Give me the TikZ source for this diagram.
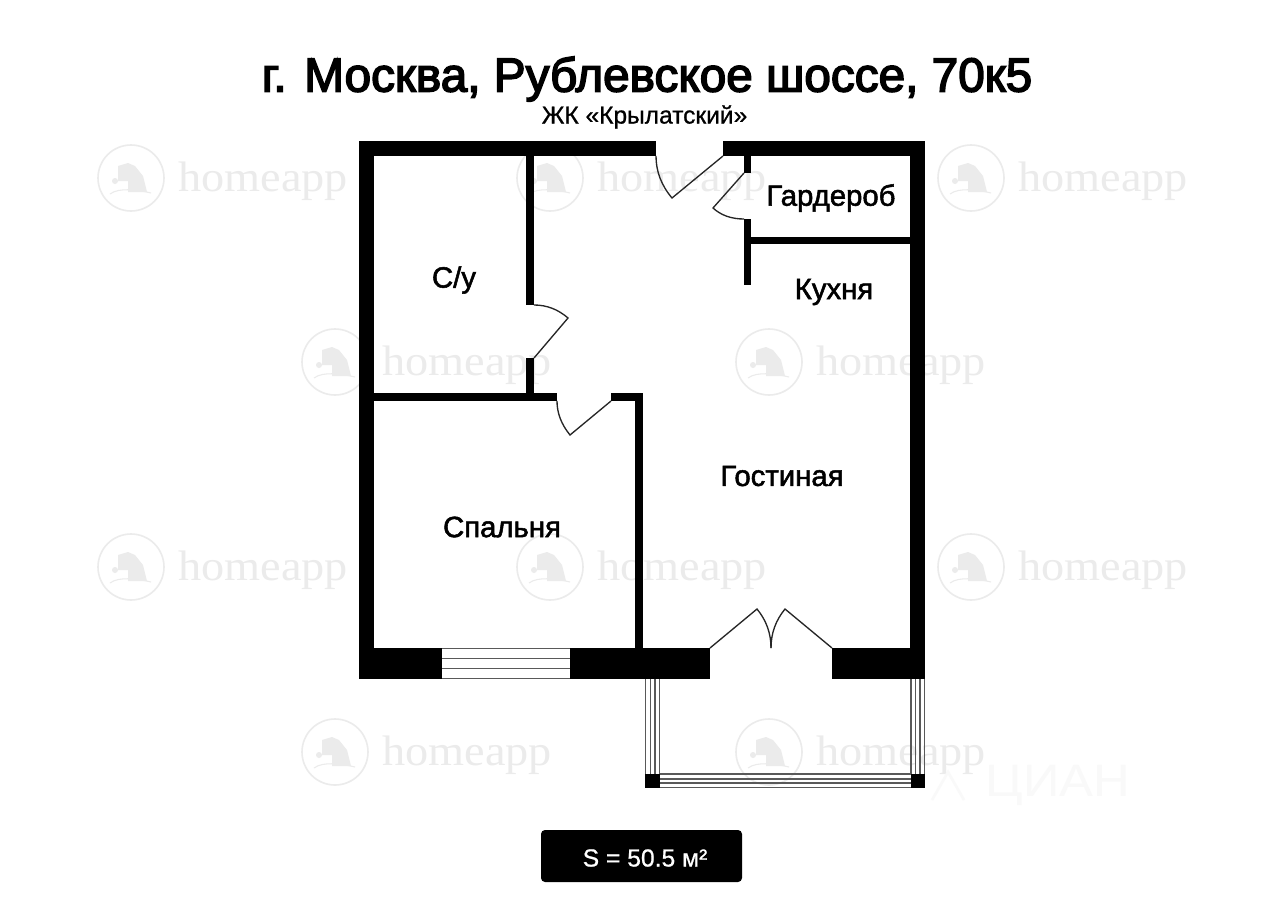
\documentclass[tikz,border=0pt]{standalone}
\usepackage{fontspec}
\setmainfont{Liberation Sans}
\newfontfamily\wmfont[FakeStretch=1.084]{Liberation Serif}
\newfontfamily\medfont[FakeBold=3.2]{Liberation Sans}
\newfontfamily\labfont[FakeBold=1.8]{Liberation Sans}
\newfontfamily\subfont[FakeBold=0.8]{Liberation Sans}
\newfontfamily\cianfont[FakeStretch=1.12]{Liberation Sans}
\tikzset{
  wall/.style={fill=black,draw=none},
  doorline/.style={draw=black!85,line width=1pt,line join=miter},
  glass/.style={draw=black!65,line width=1pt},
  roomlabel/.style={inner sep=0pt,font=\labfont\fontsize{22}{26}\selectfont},
  wmtext/.style={inner sep=0pt,anchor=west,text=black!8,font=\wmfont\fontsize{32}{34}\selectfont},
  wmring/.style={draw=black!8,line width=1.2pt,fill=white},
  wmhouse/.style={fill=black!8,draw=none}
}
\newcommand{\wmark}[3]{%
  \path[wmring] (#1,#2) circle (33);
  \path[wmhouse] (#1-13,#2-12) -- (#1-3,#2-15) -- (#1+4,#2-12) -- (#1+12,#2-2) -- (#1+16,#2+14) -- (#1-3,#2+14) -- (#1-3,#2+3) -- (#1-13,#2+3) -- cycle;
  \path[wmhouse] (#1-16,#2+3) circle (3);
  \draw[black!8,line width=0.8pt] (#1-21,#2+16) .. controls (#1-12,#2+9) and (#1+8,#2+12) .. (#1+20,#2+15);
  \node[wmtext] (wm#3) at (#1+47,#2+3) {homeapp};
}
\begin{document}
\begin{tikzpicture}[x=0.75pt,y=-0.75pt]
\useasboundingbox (0,0) rectangle (1280,914);
\fill[white] (0,0) rectangle (1280,914);
% watermarks
\wmark{131}{178}{a}
\wmark{550}{178}{b}
\wmark{971}{178}{c}
\wmark{335}{362}{d}
\wmark{769}{362}{e}
\wmark{131}{567}{f}
\wmark{550}{567}{g}
\wmark{971}{567}{h}
\wmark{335}{752}{i}
\wmark{769}{752}{j}
\node[inner sep=0pt,text=black!2.5,font=\cianfont\fontsize{34}{36}\selectfont] (cian) at (1058,785) {ЦИАН};
\coordinate (cianA) at (932,800); \coordinate (cianB) at (948,772); \coordinate (cianC) at (964,800);
\draw[black!2.5,line width=2pt] (cianA) -- (cianB) -- (cianC);
% title
\node[inner sep=0pt,font=\medfont\fontsize{35.8}{40}\selectfont] (title) at (647,79) {г. Москва, Рублевское шоссе, 70к5};
\node[inner sep=0pt,font=\subfont\fontsize{18.4}{22}\selectfont] (subtitle) at (644.5,117) {ЖК «Крылатский»};
% outer walls
\fill[wall] (359,141) rectangle (656,156);
\fill[wall] (723,141) rectangle (925,156);
\fill[wall] (359,141) rectangle (374,679);
\fill[wall] (910,141) rectangle (925,679);
\fill[wall] (359,648) rectangle (442,679);
\fill[wall] (570,648) rectangle (710,679);
\fill[wall] (832,648) rectangle (925,679);
% inner walls
\fill[wall] (744,156) rectangle (751,173);
\fill[wall] (744,219) rectangle (751,285);
\fill[wall] (751,237) rectangle (910,244);
\fill[wall] (526,156) rectangle (534,305);
\fill[wall] (526,358) rectangle (534,393);
\fill[wall] (374,393) rectangle (557,401);
\fill[wall] (611,393) rectangle (643,401);
\fill[wall] (635,393) rectangle (643,648);
% door points
\coordinate (entA) at (656,156); \coordinate (entT) at (672,198); \coordinate (entH) at (723,156);
\coordinate (garH) at (744,173); \coordinate (garT) at (713,208); \coordinate (garE) at (744,219);
\coordinate (batH) at (534,358); \coordinate (batT) at (568,318); \coordinate (batE) at (534,305);
\coordinate (bedH) at (611,401); \coordinate (bedT) at (570,435); \coordinate (bedE) at (557,401);
\coordinate (balL) at (710,648); \coordinate (balLT) at (757,609); \coordinate (balM) at (771,648);
\coordinate (balR) at (832,648); \coordinate (balRT) at (785,609);
\draw[doorline] (entA) .. controls (656,171.3) and (661.3,185.3) .. (entT) -- (entH);
\draw[doorline] (garH) -- (garT) .. controls (721,215.3) and (731.3,219) .. (garE);
\draw[doorline] (batE) .. controls (546.7,305) and (558,309.3) .. (batT) -- (batH);
\draw[doorline] (bedE) .. controls (557,413) and (561.3,424.3) .. (bedT) -- (bedH);
\draw[doorline] (balL) -- (balLT) .. controls (766.3,620.3) and (771,633.3) .. (balM);
\draw[doorline] (balR) -- (balRT) .. controls (775.7,620.3) and (771,633.3) .. (balM);
% bedroom window
\foreach \yy in {648.5,658.5,668.5,678.5} \draw[glass] (442,\yy) -- (570,\yy);
% balcony
\foreach \xx in {645.5,650.5,655,659.5} \draw[glass] (\xx,679) -- (\xx,774);
\foreach \xx in {911,915.5,920,924.5} \draw[glass] (\xx,679) -- (\xx,774);
\foreach \yy in {774,779,783,787.5} \draw[glass] (660,\yy) -- (911,\yy);
\fill[wall] (645,774) rectangle (660,788);
\fill[wall] (911,774) rectangle (925,788);
% rooms
\node[roomlabel] (garderob) at (831,198) {Гардероб};
\node[roomlabel] (kitchen) at (834,292) {Кухня};
\node[roomlabel] (bath) at (454,280) {С/у};
\node[roomlabel] (living) at (782,476) {Гостиная};
\node[roomlabel] (bedroom) at (502,527) {Спальня};
% area badge
\fill[black,rounded corners=3pt] (541,830) rectangle (742,882);
\node[inner sep=0pt,text=white,font=\subfont\fontsize{18.5}{22}\selectfont] (area) at (645,858) {S = 50.5 м²};
\end{tikzpicture}
\end{document}
